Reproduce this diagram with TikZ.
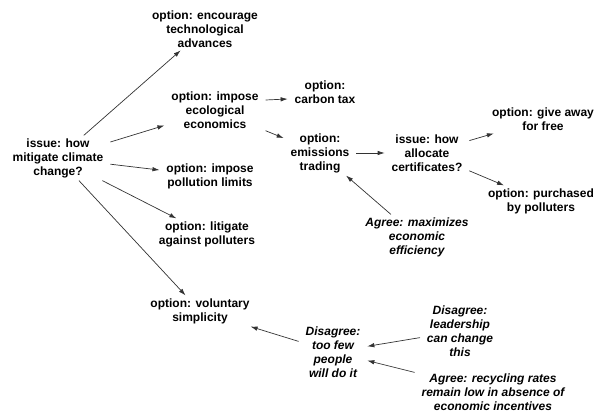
\documentclass[tikz,border=0pt]{standalone}
\usepackage{fontspec}
\setmainfont{Liberation Sans}
\usetikzlibrary{arrows.meta}
\begin{document}
\begin{tikzpicture}[x=1pt,y=1pt,
  box/.style={align=center, font=\fontsize{12}{14}\selectfont\bfseries, inner xsep=7pt, inner ysep=3pt, outer sep=0pt},
  arg/.style={box, font=\fontsize{12}{14}\selectfont\bfseries\itshape},
  arr/.style={draw=black!80, line width=0.7pt, -{Latex[length=7pt,width=4.5pt]}}]
\useasboundingbox (0,0) rectangle (595,415);
\node[box] (issue) at (58,257) {issue: how\\mitigate climate\\change?};
\node[box] (enc) at (205,386) {option: encourage\\technological\\advances};
\node[box] (eco) at (215,305) {option: impose\\ecological\\economics};
\node[box] (poll) at (210,239) {option: impose\\pollution limits};
\node[box] (lit) at (207,181) {option: litigate\\against polluters};
\node[box] (vol) at (200,104) {option: voluntary\\simplicity};
\node[box] (carbon) at (325,323) {option:\\carbon tax};
\node[box] (emis) at (320,262) {option:\\emissions\\trading};
\node[box] (alloc) at (427,262) {issue: how\\allocate\\certificates?};
\node[box] (give) at (543,296) {option: give away\\for free};
\node[box] (purch) at (541,214) {option: purchased\\by polluters};
\node[arg] (agree1) at (417,178) {Agree: maximizes\\economic\\efficiency};
\node[arg] (toofew) at (333,63) {Disagree:\\too few\\people\\will do it};
\node[arg] (lead) at (460,84) {Disagree:\\leadership\\can change\\this};
\node[arg] (recyc) at (493,23) {Agree: recycling rates\\remain low in absence of\\economic incentives};
\draw[arr] (issue) -- (enc);
\draw[arr] (issue) -- (eco);
\draw[arr] (issue) -- (poll);
\draw[arr] (issue) -- (lit);
\draw[arr] (issue) -- (vol);
\draw[arr] ([yshift=10pt]eco.east) -- ([yshift=-7pt]carbon.west);
\draw[arr] (eco) -- (emis);
\draw[arr] (emis) -- (alloc);
\draw[arr] (alloc) -- (give);
\draw[arr] (alloc) -- (purch);
\draw[arr] (agree1) -- (emis);
\draw[arr] (toofew) -- (vol);
\draw[arr] (lead) -- (toofew);
\draw[arr] (recyc) -- (toofew);
\end{tikzpicture}
\end{document}
